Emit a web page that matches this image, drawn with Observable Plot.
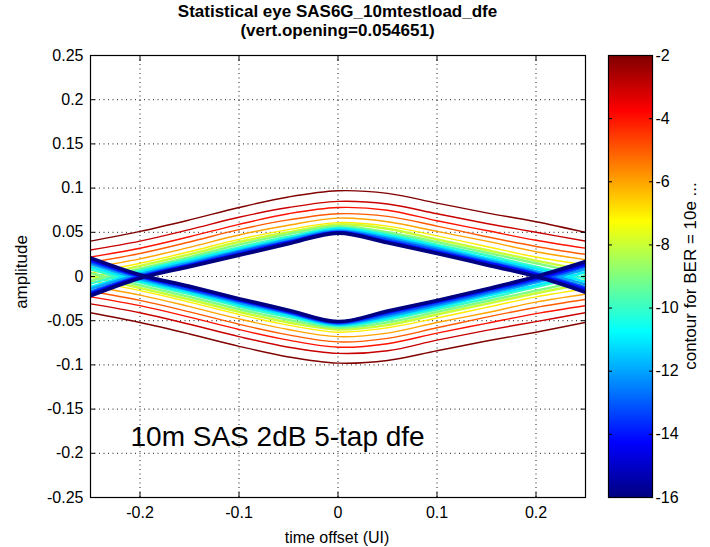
<!DOCTYPE html>
<html>
<head>
<meta charset="utf-8">
<script src="https://cdn.jsdelivr.net/npm/d3@7"></script>
<script src="https://cdn.jsdelivr.net/npm/@observablehq/plot@0.6"></script>
<style>
  html, body { margin: 0; padding: 0; background: #fff; }
  #wrap { position: relative; width: 710px; height: 547px; overflow: hidden; font-family: "Liberation Sans", Arial, sans-serif; color: #000; }
  #wrap svg { position: absolute; top: 0; }
  .lbl { position: absolute; white-space: nowrap; font-size: 16px; }
  #title { position: absolute; left: 90px; width: 495px; top: 2px; text-align: center; font-weight: bold; font-size: 17px; line-height: 19px; font-family: "Liberation Sans", Arial, sans-serif; }
</style>
</head>
<body>
<div id="wrap">
  <div id="title">Statistical eye SAS6G_10mtestload_dfe<br>(vert.opening=0.054651)</div>
  <div class="lbl" id="ylab" style="left:22px; top:272px; font-size:17px; transform: translate(-50%,-50%) rotate(-90deg);">amplitude</div>
  <div class="lbl" id="xlab" style="left:337px; top:538px; transform: translate(-50%,-50%);">time offset (UI)</div>
  <div class="lbl" id="clab" style="left:691px; top:276px; font-size:17px; transform: translate(-50%,-50%) rotate(-90deg);">contour for BER = 10e ...</div>
</div>
<script>
// ---- data ----
const times = [-0.25, -0.2, -0.15, -0.1, -0.05, 0, 0.05, 0.1, 0.15, 0.2, 0.25];
const levels = [-2, -3, -4, -5, -6, -7, -8, -9, -10, -11, -12, -13, -14, -15, -16];
// upper eye boundary (one row per BER level, one column per time offset)
const upperAmp = [
  [0.040, 0.051, 0.064, 0.078, 0.090, 0.097, 0.094, 0.083, 0.072, 0.062, 0.050],
  [0.030, 0.040, 0.053, 0.067, 0.078, 0.085, 0.082, 0.071, 0.060, 0.050, 0.040],
  [0.022, 0.032, 0.045, 0.059, 0.071, 0.078, 0.075, 0.063, 0.052, 0.041, 0.032],
  [0.016, 0.026, 0.039, 0.053, 0.064, 0.071, 0.068, 0.057, 0.045, 0.034, 0.025],
  [0.010, 0.020, 0.033, 0.047, 0.058, 0.066, 0.062, 0.051, 0.040, 0.028, 0.019],
  [0.004, 0.015, 0.028, 0.042, 0.053, 0.061, 0.057, 0.046, 0.034, 0.022, 0.013],
  [-0.001, 0.012, 0.025, 0.039, 0.050, 0.059, 0.054, 0.042, 0.030, 0.018, 0.007],
  [-0.005, 0.009, 0.022, 0.036, 0.048, 0.057, 0.050, 0.039, 0.027, 0.015, 0.003],
  [-0.008, 0.007, 0.020, 0.033, 0.045, 0.055, 0.048, 0.036, 0.024, 0.011, -0.002],
  [-0.012, 0.005, 0.018, 0.031, 0.043, 0.054, 0.046, 0.034, 0.021, 0.009, -0.006],
  [-0.014, 0.003, 0.016, 0.029, 0.042, 0.052, 0.044, 0.032, 0.019, 0.006, -0.009],
  [-0.017, 0.001, 0.014, 0.028, 0.040, 0.051, 0.042, 0.030, 0.017, 0.004, -0.012],
  [-0.019, 0.000, 0.013, 0.026, 0.039, 0.050, 0.040, 0.028, 0.016, 0.003, -0.014],
  [-0.020, -0.001, 0.012, 0.025, 0.038, 0.050, 0.039, 0.027, 0.014, 0.001, -0.016],
  [-0.022, -0.002, 0.011, 0.024, 0.037, 0.049, 0.038, 0.026, 0.013, 0.000, -0.018]
];
// lower eye boundary
const lowerAmp = [
  [-0.041, -0.052, -0.065, -0.079, -0.091, -0.098, -0.095, -0.084, -0.073, -0.063, -0.052],
  [-0.031, -0.041, -0.054, -0.068, -0.080, -0.087, -0.084, -0.072, -0.061, -0.051, -0.041],
  [-0.023, -0.033, -0.046, -0.060, -0.072, -0.080, -0.076, -0.064, -0.053, -0.042, -0.033],
  [-0.017, -0.027, -0.040, -0.054, -0.066, -0.074, -0.070, -0.058, -0.046, -0.035, -0.026],
  [-0.011, -0.021, -0.034, -0.048, -0.060, -0.068, -0.064, -0.052, -0.041, -0.029, -0.020],
  [-0.005, -0.016, -0.029, -0.043, -0.055, -0.063, -0.058, -0.047, -0.035, -0.023, -0.014],
  [0.000, -0.013, -0.026, -0.040, -0.052, -0.060, -0.055, -0.043, -0.031, -0.019, -0.008],
  [0.004, -0.010, -0.023, -0.037, -0.049, -0.058, -0.052, -0.040, -0.028, -0.016, -0.004],
  [0.008, -0.007, -0.020, -0.034, -0.046, -0.056, -0.049, -0.037, -0.025, -0.012, 0.001],
  [0.011, -0.005, -0.018, -0.032, -0.044, -0.055, -0.047, -0.035, -0.022, -0.010, 0.005],
  [0.014, -0.003, -0.016, -0.030, -0.042, -0.054, -0.045, -0.033, -0.020, -0.007, 0.008],
  [0.016, -0.001, -0.015, -0.028, -0.041, -0.053, -0.043, -0.031, -0.018, -0.005, 0.011],
  [0.018, 0.000, -0.013, -0.027, -0.040, -0.052, -0.041, -0.029, -0.016, -0.003, 0.013],
  [0.020, 0.001, -0.012, -0.026, -0.039, -0.051, -0.040, -0.028, -0.015, -0.001, 0.015],
  [0.021, 0.002, -0.011, -0.025, -0.038, -0.051, -0.039, -0.027, -0.014, 0.000, 0.017]
];
const xTicks = [-0.2, -0.1, 0, 0.1, 0.2];
const yTicks = [-0.25, -0.2, -0.15, -0.1, -0.05, 0, 0.05, 0.1, 0.15, 0.2, 0.25];
const colorTicks = [-16, -14, -12, -10, -8, -6, -4, -2];
const annotation = "10m SAS 2dB 5-tap dfe";

// ---- build table ----
const rows = [];
levels.forEach((lv, i) => {
  times.forEach((t, j) => {
    rows.push({level: lv, t, a: upperAmp[i][j], hump: "upper"});
  });
  times.forEach((t, j) => {
    rows.push({level: lv, t, a: lowerAmp[i][j], hump: "lower"});
  });
});
const outer = rows.filter(d => d.level >= -7);
const mid = rows.filter(d => d.level < -7 && d.level > -16);
const inner = rows.filter(d => d.level === -16);

const jet = {
  type: "linear",
  domain: [-16, -14.25, -10.75, -7.25, -3.75, -2],
  range: ["#000080", "#0000ff", "#00ffff", "#ffff00", "#ff0000", "#800000"],
  interpolate: "rgb"
};
const fmt = d => String(d);
const font = "'Liberation Sans', Arial, sans-serif";
const gridStyle = {stroke: "#000", strokeOpacity: 0.9, strokeDasharray: "1,3.5", strokeWidth: 1};
const lineOpts = {x: "t", y: "a", z: d => d.hump + d.level, stroke: "level", curve: "catmull-rom", clip: true};

const main = Plot.plot({
  width: 710, height: 547,
  marginLeft: 90, marginRight: 125, marginTop: 55, marginBottom: 50,
  x: {domain: [-0.25, 0.25], label: null},
  y: {domain: [-0.25, 0.25], label: null},
  color: jet,
  style: {fontFamily: font, fontSize: "16px", color: "#000", background: "transparent", overflow: "visible"},
  marks: [
    Plot.gridX(xTicks, gridStyle),
    Plot.gridY(yTicks, gridStyle),
    Plot.line(outer, {...lineOpts, strokeWidth: 1.4}),
    Plot.line(mid, {...lineOpts, strokeWidth: 2.4}),
    Plot.line(inner, {...lineOpts, strokeWidth: 3.5}),
    Plot.axisX(xTicks, {tickFormat: fmt, tickSize: 0, tickPadding: 9, fontSize: 16}),
    Plot.axisY(yTicks, {tickFormat: fmt, tickSize: 0, tickPadding: 7, fontSize: 16}),
    Plot.axisX(xTicks, {anchor: "bottom", tickSize: -5, tickFormat: () => ""}),
    Plot.axisX(xTicks, {anchor: "top", tickSize: -5, tickFormat: () => ""}),
    Plot.axisY(yTicks, {anchor: "left", tickSize: -5, tickFormat: () => ""}),
    Plot.axisY(yTicks, {anchor: "right", tickSize: -5, tickFormat: () => ""}),
    Plot.frame({stroke: "#000", strokeWidth: 1.2}),
    Plot.text([annotation], {frameAnchor: "bottom-left", textAnchor: "start", lineAnchor: "middle", dx: 40, dy: -60, fontSize: 28, fontFamily: font, fill: "#000"})
  ]
});
main.style.left = "0px";

const bar = Plot.plot({
  width: 102, height: 547,
  marginLeft: 0, marginRight: 58, marginTop: 55, marginBottom: 50,
  x: {domain: [0, 1], axis: null},
  y: {domain: [-16, -2], label: null},
  color: jet,
  style: {fontFamily: font, fontSize: "16px", color: "#000", background: "transparent", overflow: "visible"},
  marks: [
    Plot.raster({fill: (x, y) => y, x1: 0, x2: 1, y1: -16, y2: -2}),
    Plot.axisY(colorTicks, {anchor: "right", tickFormat: fmt, tickSize: 0, tickPadding: 3, fontSize: 16}),
    Plot.axisY(colorTicks, {anchor: "right", tickSize: -4, tickFormat: () => ""}),
    Plot.axisY(colorTicks, {anchor: "left", tickSize: -4, tickFormat: () => ""}),
    Plot.frame({stroke: "#000", strokeWidth: 1.2})
  ]
});
bar.style.left = "608px";

const wrap = document.getElementById("wrap");
wrap.appendChild(main);
wrap.appendChild(bar);
</script>
</body>
</html>
